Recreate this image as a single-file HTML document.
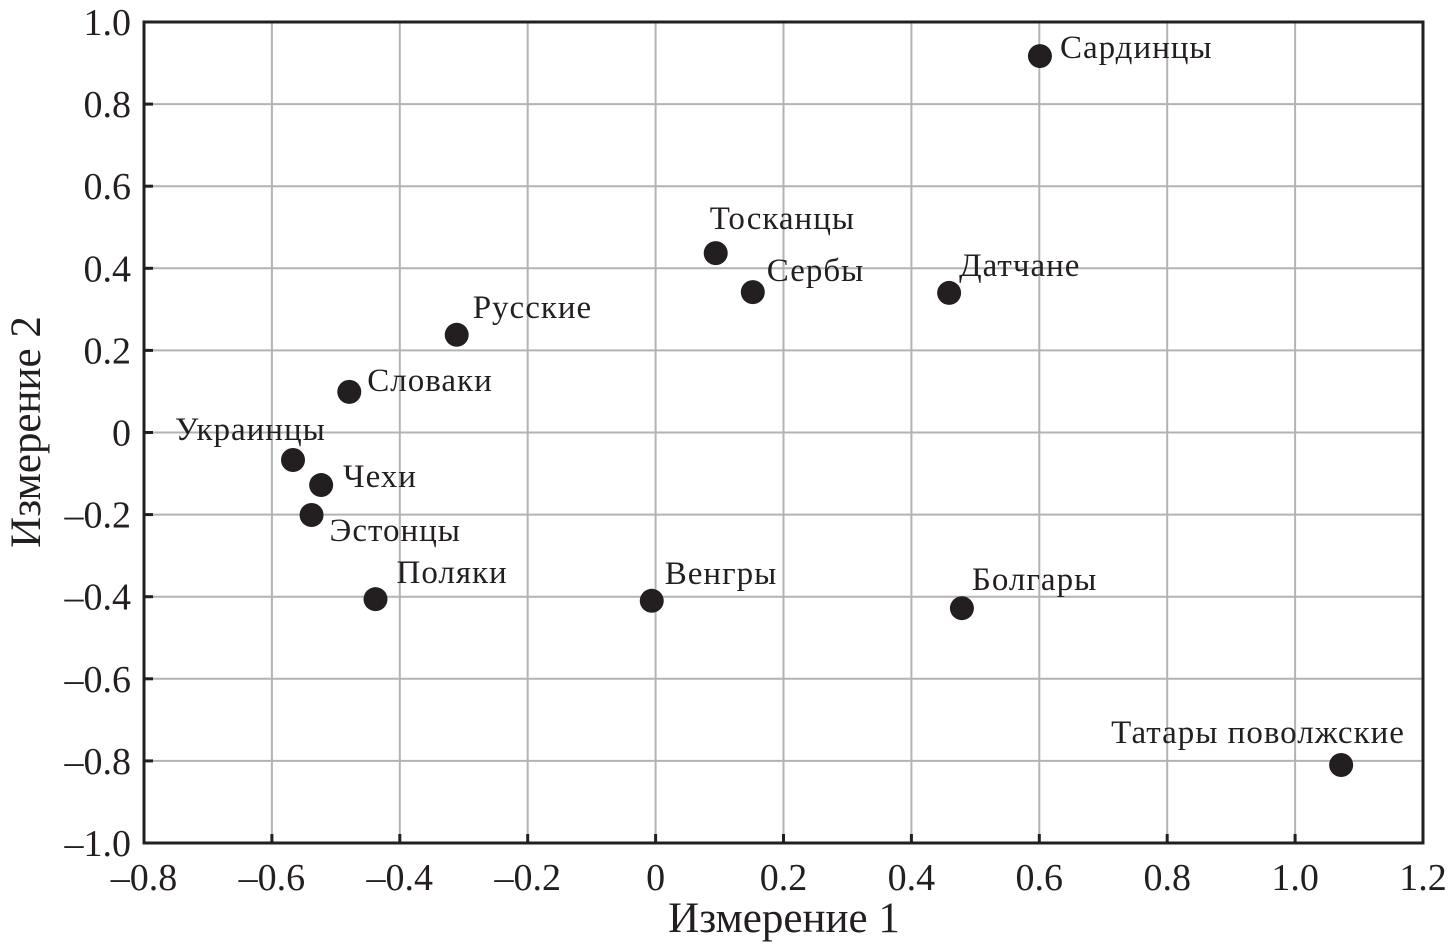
<!DOCTYPE html>
<html><head><meta charset="utf-8"><style>
body{margin:0;background:#fff}
svg text{font-family:"Liberation Serif",serif;fill:#231f20}
</style></head><body>
<svg id="chart" width="1449" height="946" xmlns="http://www.w3.org/2000/svg">
<g id="grid"></g>
<g id="axes"></g>
<g id="points"></g>
<text x="784" y="932" font-size="43" text-anchor="middle">Измерение 1</text>
<text transform="translate(40,432) rotate(-90)" font-size="43" text-anchor="middle">Измерение 2</text>
</svg>
<script>
const labels=["Сардинцы","Тосканцы","Сербы","Датчане","Русские","Словаки","Украинцы","Чехи","Эстонцы","Поляки","Венгры","Болгары","Татары поволжские"];
const xVals=[0.601,0.094,0.152,0.459,-0.311,-0.479,-0.567,-0.523,-0.538,-0.438,-0.006,0.479,1.072];
const yVals=[0.917,0.437,0.342,0.340,0.238,0.099,-0.067,-0.128,-0.201,-0.406,-0.410,-0.428,-0.810];
const xTicks=[-0.8,-0.6,-0.4,-0.2,0,0.2,0.4,0.6,0.8,1.0,1.2];
const yTicks=[-1.0,-0.8,-0.6,-0.4,-0.2,0,0.2,0.4,0.6,0.8,1.0];
const labelDx=[20,-6,14,10,16,18,-118,22,18,21,13,10,-230];
const labelDy=[-9,-35,-22,-28,-28,-12,-31,-9,15,-27,-28,-29,-33];
const L=144,R=1423,T=22,B=843;
const sx=v=>L+(v+0.8)/2.0*(R-L);
const sy=v=>B-(v+1.0)/2.0*(B-T);
const NS="http://www.w3.org/2000/svg";
function mk(t,a,p){const e=document.createElementNS(NS,t);for(const k in a)e.setAttribute(k,a[k]);p.appendChild(e);return e;}
const fmt=v=>{if(Math.abs(v)<1e-9)return "0";const s=Math.abs(v).toFixed(1);return (v<0?"\u2013":"")+s;};
const grid=document.getElementById('grid'),axes=document.getElementById('axes'),pts=document.getElementById('points');
xTicks.forEach(v=>{
  const x=sx(v);
  const g=mk('line',{x1:x,x2:x,y1:T,y2:B,stroke:'#b3b3b3','stroke-width':2},grid);
  
  
  const tk=mk('line',{x1:x,x2:x,y1:B,y2:B-9,stroke:'#231f20','stroke-width':3},axes);
  
  
  const t=mk('text',{x:x,y:890,'font-size':38,'text-anchor':'middle'},axes);
  t.textContent=fmt(v);
  
  
});
yTicks.forEach(v=>{
  const y=sy(v);
  const g=mk('line',{x1:L,x2:R,y1:y,y2:y,stroke:'#b3b3b3','stroke-width':2},grid);
  
  
  const tk=mk('line',{x1:L,x2:L+9,y1:y,y2:y,stroke:'#231f20','stroke-width':3},axes);
  
  
  const t=mk('text',{x:131,y:y+13,'font-size':38,'text-anchor':'end'},axes);
  t.textContent=fmt(v);
  
  
});
const frame=mk('rect',{x:L,y:T,width:R-L,height:B-T,fill:'none',stroke:'#231f20','stroke-width':3},axes);


labels.forEach((n,i)=>{
  const cx=sx(xVals[i]),cy=sy(yVals[i]);
  const c=mk('circle',{cx:cx,cy:cy,r:12,fill:'#231f20'},pts);
  
  
  const t=mk('text',{x:cx+labelDx[i],y:cy+labelDy[i]+11,'font-size':33,'letter-spacing':1},pts);
  t.textContent=n;
  
  
});
</script>
</body></html>
